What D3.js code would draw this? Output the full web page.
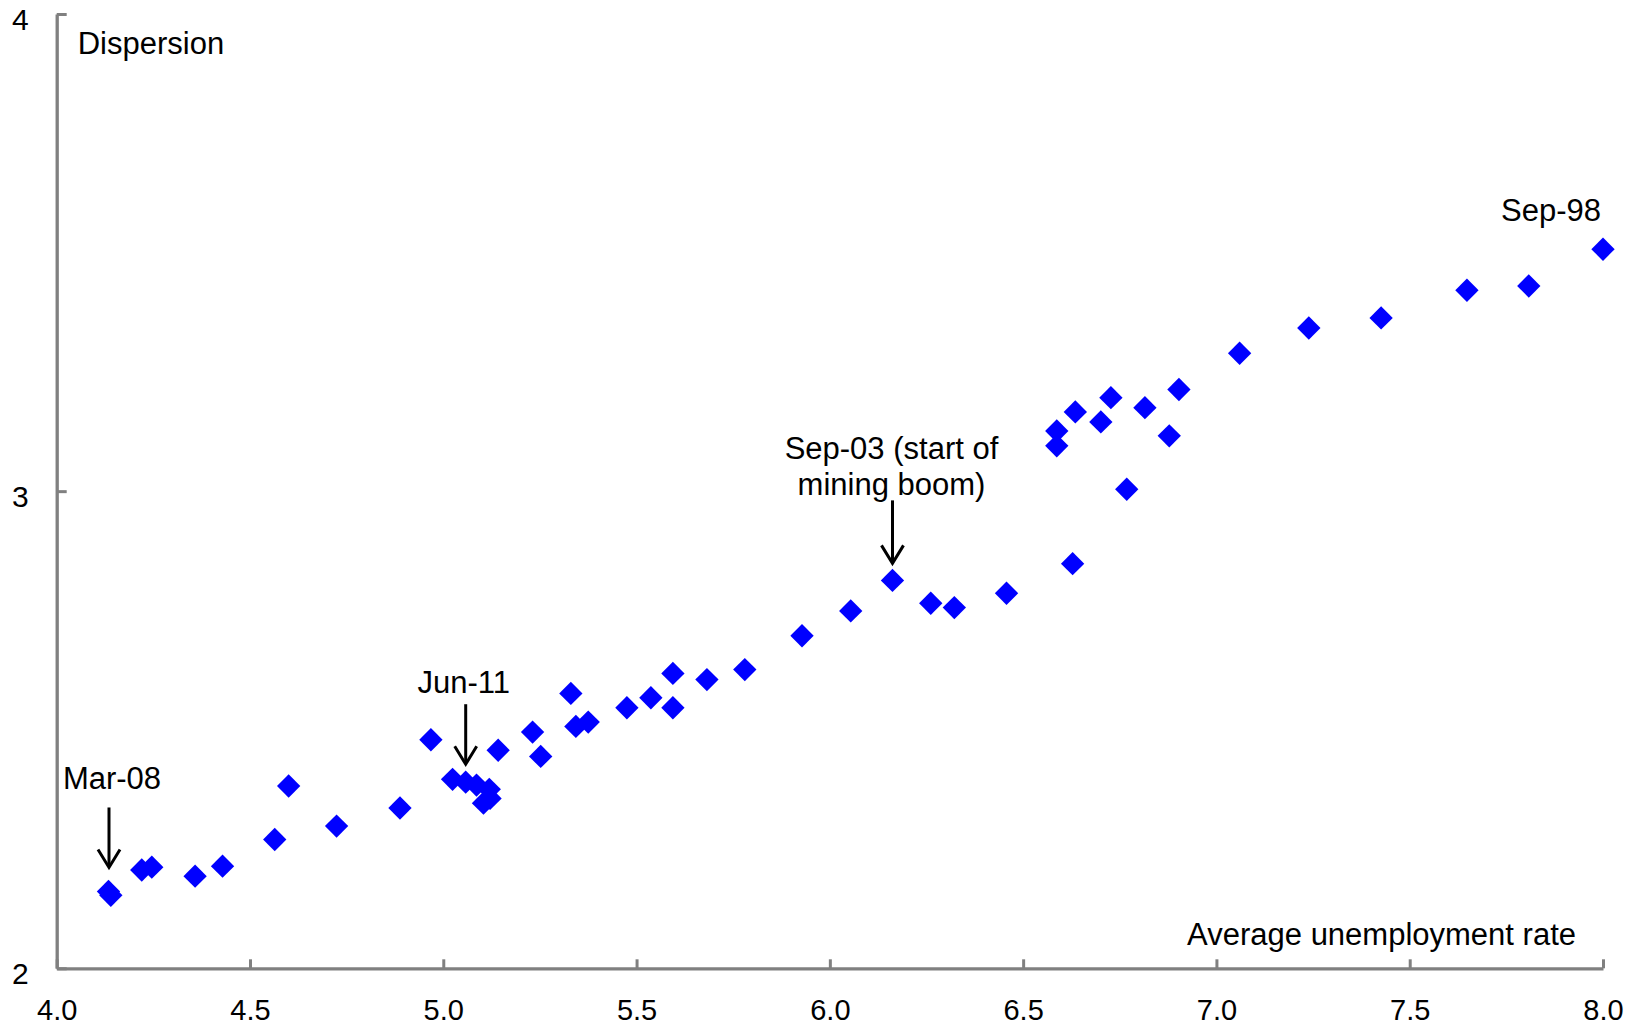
<!DOCTYPE html>
<html>
<head>
<meta charset="utf-8">
<script src="https://cdn.jsdelivr.net/npm/d3@7"></script>
<style>
  html, body { margin: 0; padding: 0; background: #fff; }
  svg text { font-family: "Liberation Sans", Arial, sans-serif; fill: #000; }
</style>
</head>
<body>
<svg id="chart" width="1642" height="1026"></svg>
<script>
// ---- Data ----
const unemployment = [
  4.134, 4.140, 4.220, 4.246, 4.358, 4.429, 4.564, 4.600, 4.724, 4.888,
  4.968, 5.024, 5.058, 5.086, 5.119, 5.104, 5.121, 5.142, 5.231, 5.252,
  5.330, 5.343, 5.375, 5.475, 5.537, 5.594, 5.594, 5.682, 5.780, 5.928,
  6.054, 6.162, 6.261, 6.322, 6.457, 6.628, 6.587, 6.587, 6.635, 6.701,
  6.727, 6.768, 6.815, 6.878, 6.903, 7.060, 7.239, 7.426, 7.648, 7.808,
  8.000
];
const dispersion = [
  2.161, 2.153, 2.206, 2.212, 2.193, 2.214, 2.270, 2.382, 2.298, 2.336,
  2.479, 2.396, 2.390, 2.384, 2.375, 2.346, 2.356, 2.457, 2.495, 2.444,
  2.576, 2.507, 2.516, 2.546, 2.567, 2.618, 2.546, 2.605, 2.626, 2.697,
  2.749, 2.813, 2.765, 2.756, 2.786, 2.848, 3.126, 3.095, 3.166, 3.145,
  3.196, 3.004, 3.175, 3.116, 3.213, 3.289, 3.342, 3.363, 3.421, 3.430,
  3.507
];
const xTicks = [4.0, 4.5, 5.0, 5.5, 6.0, 6.5, 7.0, 7.5, 8.0];
const yTicks = [2, 3, 4];
const xTitle = "Average unemployment rate";
const yTitle = "Dispersion";

// annotations: label lines and index of the point they refer to
const annotLabels = [["Mar-08"], ["Jun-11"], ["Sep-03 (start of", "mining boom)"], ["Sep-98"]];
const annotIndex  = [0, 12, 31, 50];
const annotArrow  = [true, true, true, false];

// ---- Layout ----
const svg = d3.select("#chart");
const x = d3.scaleLinear().domain([4, 8]).range([56.7, 1603]);
const y = d3.scaleLinear().domain([2, 4]).range([968.3, 14]);
const axisColor = "#808080";

// X axis
const gx = svg.append("g").attr("transform", `translate(0,${y(2)})`)
  .call(d3.axisBottom(x).tickValues(xTicks).tickFormat(d3.format(".1f"))
        .tickSizeInner(-9).tickSizeOuter(0).tickPadding(31));
gx.select(".domain").attr("stroke", axisColor).attr("stroke-width", 3.3);
gx.selectAll(".tick line").attr("stroke", axisColor).attr("stroke-width", 3);
gx.selectAll(".tick text").attr("font-size", 29).attr("font-family", "Liberation Sans, Arial, sans-serif").attr("fill", "#000");

// Y axis
const gy = svg.append("g").attr("transform", `translate(${x(4)},0)`)
  .call(d3.axisLeft(y).tickValues(yTicks).tickFormat(d3.format("d"))
        .tickSizeInner(-10).tickSizeOuter(0).tickPadding(28));
gy.select(".domain").attr("stroke", axisColor).attr("stroke-width", 3.3);
gy.selectAll(".tick line").attr("stroke", axisColor).attr("stroke-width", 3);
gy.selectAll(".tick text").attr("font-size", 30).attr("dy", 15)
  .attr("font-family", "Liberation Sans, Arial, sans-serif").attr("fill", "#000");

// Axis titles
svg.append("text").attr("x", x(4) + 21).attr("y", y(4) + 40)
  .attr("font-size", 31).text(yTitle);
svg.append("text").attr("x", x(8) - 27).attr("y", y(2) - 23)
  .attr("text-anchor", "end").attr("font-size", 31).text(xTitle);

// Points (diamonds)
const diamond = d3.symbol().type(d3.symbolSquare).size(272);
svg.append("g").selectAll("path")
  .data(unemployment.map((u, i) => [u, dispersion[i]]))
  .join("path")
  .attr("d", diamond)
  .attr("transform", d => `translate(${x(d[0])},${y(d[1])}) rotate(45)`)
  .attr("fill", "#0000ff");

// Annotations
const annotDx = [3, -2, -1, -2];
const annotTip = [24, 18, 17, 0];
const annotLen = [60, 60, 63, 0];
const annotTextGap = [18, 11, 5, 28];
annotLabels.forEach((lines, k) => {
  const i = annotIndex[k];
  const px = x(unemployment[i]), py = y(dispersion[i]);
  const g = svg.append("g");
  if (annotArrow[k]) {
    const tipY = py - annotTip[k];
    const ax = px + (k === 0 ? 0.5 : 0);
    g.append("line").attr("x1", ax).attr("x2", ax)
      .attr("y1", tipY - annotLen[k]).attr("y2", tipY - 1)
      .attr("stroke", "#000").attr("stroke-width", 3);
    g.append("path")
      .attr("d", `M${ax - 11},${tipY - 18} L${ax},${tipY} L${ax + 11},${tipY - 18}`)
      .attr("fill", "none").attr("stroke", "#000").attr("stroke-width", 3);
    const topY = tipY - annotLen[k] - annotTextGap[k];
    const n = lines.length;
    lines.forEach((line, j) => {
      g.append("text").attr("x", ax + annotDx[k])
        .attr("y", topY - (n - 1 - j) * 36.7)
        .attr("text-anchor", "middle").attr("font-size", 31).text(line);
    });
  } else {
    g.append("text").attr("x", px - 2).attr("y", py - annotTextGap[k])
      .attr("text-anchor", "end").attr("font-size", 31).text(lines[0]);
  }
});
</script>
</body>
</html>
